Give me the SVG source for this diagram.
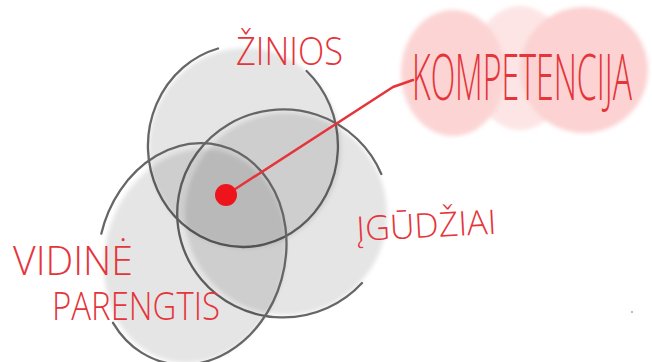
<svg xmlns="http://www.w3.org/2000/svg" width="652" height="362" viewBox="0 0 652 362">
  <defs>
    <filter id="soft" x="-20%" y="-20%" width="140%" height="140%">
      <feGaussianBlur stdDeviation="2"/>
    </filter>
  </defs>
  <style>
    .wash { fill: #000; fill-opacity: 0.1; filter: url(#soft); }
    .pink { filter: url(#soft); }
    .outline { fill: none; stroke: #666; stroke-width: 2.3; stroke-linecap: round; }
    .lbl { fill: #e5343a; font-family: "Open Sans", "Liberation Sans", sans-serif; font-weight: 300; }
  </style>
  <rect width="652" height="362" fill="#fff"/>

  <g id="kompetencija-bg">
    <ellipse class="pink" cx="520" cy="68" rx="48" ry="62" fill="#fde5e5"/>
    <ellipse class="pink" cx="453" cy="73" rx="52" ry="63" fill="#fcd4d4"/>
    <ellipse class="pink" cx="584" cy="70" rx="64" ry="63" fill="#fcd2d2"/>
  </g>

  <g id="zinios">
    <ellipse class="wash" cx="245" cy="148" rx="96" ry="100"/>
    <path class="outline" d="M218,48.5 A95,101 0 1 0 306.6,71"/>
    <text class="lbl" x="236" y="65" font-size="38" textLength="107" lengthAdjust="spacingAndGlyphs">ŽINIOS</text>
  </g>

  <g id="igudziai">
    <ellipse class="wash" cx="286" cy="214" rx="101" ry="101"/>
    <path class="outline" d="M362,283 A106,104 0 1 1 381.3,174"/>
    <text class="lbl" x="357" y="241" font-size="34" textLength="140" lengthAdjust="spacingAndGlyphs" transform="rotate(-3 357 241)">ĮGŪDŽIAI</text>
  </g>

  <g id="vidine-parengtis">
    <ellipse class="wash" cx="195" cy="256" rx="90" ry="108" transform="rotate(15 195 256)"/>
    <path class="outline" d="M101.3,233.7 A93,112 15 1 1 113,322.8"/>
    <text class="lbl" x="13" y="275" font-size="40" textLength="120" lengthAdjust="spacingAndGlyphs">VIDINĖ</text>
    <text class="lbl" x="52" y="320" font-size="38" textLength="168" lengthAdjust="spacingAndGlyphs">PARENGTIS</text>
  </g>

  <g id="connectors">
    <polyline points="226,195 393,87 413,80" fill="none" stroke="#e5343a" stroke-width="2.5" stroke-linecap="round" stroke-linejoin="round"/>
  </g>

  <g id="center-dot">
    <circle cx="226" cy="195" r="11" fill="#ee141c"/>
  </g>

  <g id="kompetencija">
    <text class="lbl" x="412" y="100" font-size="64" textLength="220" lengthAdjust="spacingAndGlyphs">KOMPETENCIJA</text>
  </g>

  <circle cx="632" cy="312" r="1" fill="#aaa"/>
</svg>
